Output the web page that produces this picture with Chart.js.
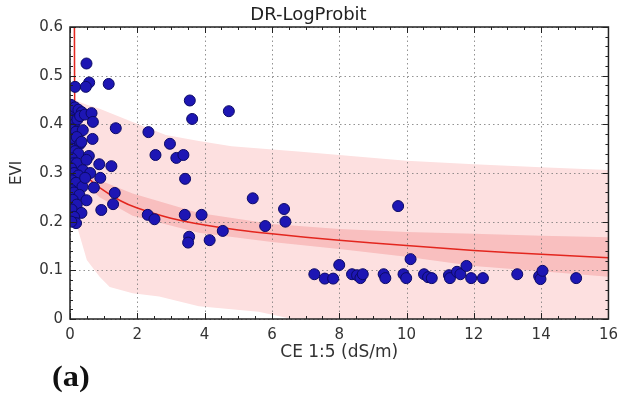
<!DOCTYPE html>
<html>
<head>
<meta charset="utf-8">
<script src="https://cdn.jsdelivr.net/npm/chart.js@4/dist/chart.umd.min.js"></script>
<style>
    html, body { margin: 0; padding: 0; background: #fff; }
    .wrap { position: relative; width: 625px; height: 401px; }
    .panel-tag {
        position: absolute; left: 52px; top: 359px;
        font-family: "Liberation Serif", serif; font-weight: bold; font-size: 30px; color: #111;
        transform: scaleX(1.08); transform-origin: left top;
    }
</style>
</head>
<body>
<div class="wrap">
    <canvas id="drChart" width="625" height="401"></canvas>
    <div class="panel-tag">(a)</div>
</div>
<script>
// observed EVI vs CE 1:5
var obsCE = [
    0.49, 0.57, 0.47, 0.15, 1.15, 3.56, 3.63, 4.72,
    0.03, 0.08, 0.15, 0.25, 0.35, 0.05, 0.12, 0.22, 0.30, 0.44, 0.64, 0.68,
    0.04, 0.18, 0.38, 0.10, 0.20, 0.30, 0.67, 0.34, 0.05, 0.15, 0.25, 0.56,
    0.05, 0.10, 0.20, 0.49, 0.38, 0.03, 0.12, 0.25, 0.06, 0.18, 0.37, 0.71,
    0.04, 0.12, 0.28, 0.08, 0.49, 0.20, 0.05, 0.34, 0.12, 0.18, 0.04, 0.60, 0.45,
    0.87, 0.90, 0.93, 1.36, 2.33, 2.97, 2.54, 3.16, 3.37, 1.23, 3.42, 1.33, 1.28,
    2.31, 2.51, 3.41, 3.91, 3.54, 3.51, 4.15, 4.54, 5.43, 5.80, 6.36, 6.40,
    7.26, 7.57, 7.82, 8.00, 8.38, 8.53, 8.63, 8.70, 9.32, 9.37, 9.75, 9.91, 9.99, 10.12,
    10.52, 10.64, 10.75, 11.26, 11.29, 11.50, 11.60, 11.78, 11.92, 12.27, 13.29,
    13.94, 13.98, 14.04, 15.04
];
var obsEVI = [
    0.525, 0.486, 0.477, 0.477, 0.483, 0.449, 0.411, 0.427,
    0.440, 0.430, 0.435, 0.430, 0.425, 0.410, 0.400, 0.410, 0.417, 0.420, 0.423, 0.405,
    0.390, 0.385, 0.388, 0.370, 0.374, 0.360, 0.370, 0.364, 0.350, 0.345, 0.340, 0.335,
    0.330, 0.320, 0.320, 0.327, 0.306, 0.310, 0.300, 0.295, 0.285, 0.280, 0.272, 0.270,
    0.265, 0.260, 0.255, 0.245, 0.244, 0.235, 0.225, 0.218, 0.210, 0.197, 0.200, 0.300, 0.290,
    0.318, 0.290, 0.224, 0.392, 0.384, 0.360, 0.337, 0.331, 0.337, 0.314, 0.288, 0.259, 0.236,
    0.214, 0.205, 0.214, 0.214, 0.169, 0.157, 0.162, 0.181, 0.248, 0.191, 0.226, 0.200,
    0.092, 0.083, 0.083, 0.111, 0.092, 0.090, 0.084, 0.092, 0.092, 0.084, 0.232, 0.092, 0.084, 0.123,
    0.092, 0.086, 0.084, 0.090, 0.084, 0.097, 0.092, 0.109, 0.084, 0.084, 0.092,
    0.088, 0.082, 0.099, 0.084
];

// fitted DR-LogProbit curve
var fitCE = [0.13, 0.14, 0.16, 0.25, 0.50, 0.88, 1.5, 2, 3, 4, 5, 6, 7, 8, 10, 12, 14, 16];
var fitEVI = [0.62, 0.42, 0.345, 0.318, 0.293, 0.270, 0.243, 0.228, 0.207, 0.193, 0.183, 0.175, 0.168, 0.162, 0.151, 0.141, 0.133, 0.126];

// narrow band (upper edge left->right, lower edge right->left)
var innerUpCE = [0.12, 0.14, 0.30, 0.88, 1.86, 3.83, 6, 8, 10, 12, 14, 16];
var innerUpEVI = [0.62, 0.36, 0.330, 0.285, 0.258, 0.218, 0.195, 0.185, 0.179, 0.175, 0.171, 0.168];
var innerLoCE = [16, 14, 12, 10, 8, 6, 3.83, 1.86, 0.88, 0.40, 0.20, 0.16, 0.15];
var innerLoEVI = [0.087, 0.098, 0.109, 0.128, 0.144, 0.158, 0.177, 0.212, 0.250, 0.280, 0.310, 0.340, 0.62];

// wide band
var outerUpCE = [0.11, 0.13, 0.20, 0.50, 0.88, 1.86, 2.85, 3.83, 4.8, 6.78, 8, 10, 12, 14, 16];
var outerUpEVI = [0.62, 0.46, 0.448, 0.440, 0.432, 0.405, 0.378, 0.366, 0.355, 0.344, 0.337, 0.325, 0.318, 0.312, 0.306];
var outerLoCE = [16, 6.6, 5.6, 3.83, 2.65, 1.86, 1.18, 0.88, 0.50, 0.24, 0.20, 0.17, 0.16];
var outerLoEVI = [0, 0, 0.015, 0.026, 0.046, 0.053, 0.066, 0.087, 0.121, 0.183, 0.230, 0.300, 0.62];

var xTicks = [0, 2, 4, 6, 8, 10, 12, 14, 16];
var yTicks = [0, 0.1, 0.2, 0.3, 0.4, 0.5, 0.6];
var yTickLabels = ['0', '0.1', '0.2', '0.3', '0.4', '0.5', '0.6'];

function pairs(xs, ys) {
    return xs.map(function (x, i) {
        return {x: x, y: ys[i]};
    });
}

var FONT = 'DejaVu Sans';

var frameTicks = {
    id: 'frameTicks',
    beforeDatasetDraw: function (chart, args) {
        if (args.index !== 1) return;
        var ctx = chart.ctx, a = chart.chartArea;
        var xs = chart.scales.x, ys = chart.scales.y;
        ctx.save();
        ctx.strokeStyle = 'rgba(120,120,120,0.8)';
        ctx.lineWidth = 1;
        ctx.setLineDash([1.5, 3]);
        xTicks.forEach(function (v) {
            var px = Math.round(xs.getPixelForValue(v)) + 0.5;
            ctx.beginPath();
            ctx.moveTo(px, a.top);
            ctx.lineTo(px, a.bottom);
            ctx.stroke();
        });
        yTicks.forEach(function (v) {
            var py = Math.round(ys.getPixelForValue(v)) + 0.5;
            ctx.beginPath();
            ctx.moveTo(a.left, py);
            ctx.lineTo(a.right, py);
            ctx.stroke();
        });
        ctx.restore();
    },
    afterDatasetsDraw: function (chart) {
        var ctx = chart.ctx, a = chart.chartArea;
        var xs = chart.scales.x, ys = chart.scales.y;
        ctx.save();
        ctx.strokeStyle = '#222';
        ctx.lineWidth = 1;
        var v, px, py, len;
        for (v = 0; v <= 16.001; v += 0.5) {
            len = Math.abs(v / 2 - Math.round(v / 2)) < 1e-6 ? 6 : 3;
            px = Math.round(xs.getPixelForValue(v)) + 0.5;
            ctx.beginPath();
            ctx.moveTo(px, a.bottom); ctx.lineTo(px, a.bottom - len);
            ctx.moveTo(px, a.top); ctx.lineTo(px, a.top + len);
            ctx.stroke();
        }
        for (v = 0; v <= 0.6001; v += 0.02) {
            len = Math.abs(v * 10 - Math.round(v * 10)) < 1e-6 ? 6 : 3;
            py = Math.round(ys.getPixelForValue(v)) + 0.5;
            ctx.beginPath();
            ctx.moveTo(a.left, py); ctx.lineTo(a.left + len, py);
            ctx.moveTo(a.right, py); ctx.lineTo(a.right - len, py);
            ctx.stroke();
        }
        ctx.lineWidth = 1.5;
        ctx.strokeRect(a.left, a.top, a.right - a.left, a.bottom - a.top);
        ctx.restore();
    }
};

new Chart(document.getElementById('drChart'), {
    type: 'line',
    data: {
        datasets: [{
            label: 'Observed',
            data: pairs(obsCE, obsEVI),
            showLine: false,
            pointRadius: 5.5,
            pointBackgroundColor: '#1d16b4',
            pointBorderColor: '#0c0a66',
            pointBorderWidth: 1
        }, {
            label: 'DR-LogProbit',
            data: pairs(fitCE, fitEVI),
            borderColor: '#e3261e',
            borderWidth: 1.5,
            pointRadius: 0,
            tension: 0.3,
            fill: false
        }, {
            label: 'Inner band',
            data: pairs(innerUpCE.concat(innerLoCE), innerUpEVI.concat(innerLoEVI)),
            borderWidth: 0,
            pointRadius: 0,
            backgroundColor: 'rgba(240,130,130,0.35)',
            fill: 'shape'
        }, {
            label: 'Outer band',
            data: pairs(outerUpCE.concat(outerLoCE), outerUpEVI.concat(outerLoEVI)),
            borderWidth: 0,
            pointRadius: 0,
            backgroundColor: '#fde0e0',
            fill: 'shape'
        }]
    },
    options: {
        responsive: false,
        animation: false,
        layout: {padding: {left: 0, right: 8, top: 0, bottom: 0}},
        plugins: {
            legend: {display: false},
            tooltip: {enabled: false},
            title: {
                display: true,
                text: 'DR-LogProbit',
                color: '#222',
                font: {family: FONT, size: 18, weight: 'normal'},
                padding: {top: 5, bottom: 0.4}
            }
        },
        scales: {
            x: {
                type: 'linear',
                min: 0, max: 16,
                afterBuildTicks: function (s) {
                    s.ticks = xTicks.map(function (v) { return {value: v}; });
                },
                afterFit: function (s) { s.height = 82; },
                grid: {display: false, drawTicks: false},
                border: {display: false},
                ticks: {
                    color: '#333', padding: 7, maxRotation: 0, autoSkip: false,
                    font: {family: FONT, size: 15}
                },
                title: {
                    display: true, text: 'CE 1:5 (dS/m)', color: '#333',
                    font: {family: FONT, size: 17},
                    padding: {top: 0, bottom: 38}
                }
            },
            y: {
                type: 'linear',
                min: 0, max: 0.6,
                afterBuildTicks: function (s) {
                    s.ticks = yTicks.map(function (v) { return {value: v}; });
                },
                afterFit: function (s) { s.width = 70; },
                grid: {display: false, drawTicks: false},
                border: {display: false},
                ticks: {
                    color: '#333', padding: 7, autoSkip: false,
                    font: {family: FONT, size: 15},
                    callback: function (v) {
                        var i = yTicks.findIndex(function (t) { return Math.abs(t - v) < 1e-6; });
                        return i >= 0 ? yTickLabels[i] : '';
                    }
                },
                title: {
                    display: true, text: 'EVI', color: '#333',
                    font: {family: FONT, size: 15},
                    padding: {top: 8, bottom: 0}
                }
            }
        }
    },
    plugins: [frameTicks]
});
</script>
</body>
</html>
